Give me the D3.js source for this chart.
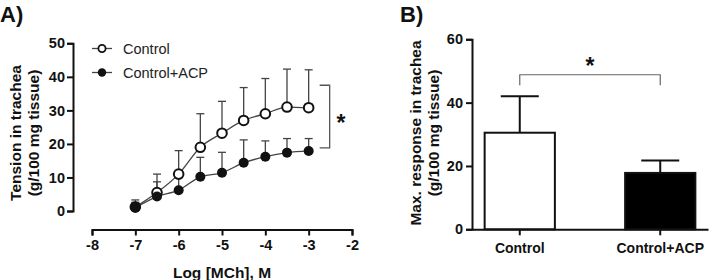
<!DOCTYPE html>
<html><head><meta charset="utf-8">
<script src="https://cdn.jsdelivr.net/npm/d3@7"></script>
<style>body{margin:0;background:#fff}svg{display:block;font-family:"Liberation Sans",Arial,sans-serif}</style>
</head><body><svg id="c" width="709" height="280"></svg>
<script>
const logDose = [-7, -6.5, -6, -5.5, -5, -4.5, -4, -3.5, -3];
const controlMean = [1.2, 5.5, 11, 19, 23.2, 27, 29, 31, 30.8];
const controlUpper = [3.3, 11, 18, 29, 32.7, 36.8, 39.5, 42.3, 42.1];
const acpMean = [1.0, 4.3, 6.2, 10.2, 11.4, 14.4, 16.2, 17.4, 17.9];
const acpUpper = [2.6, 8.7, 11, 16, 17.5, 21.2, 20.9, 21.6, 21.6];
const xTicksA = [-8, -7, -6, -5, -4, -3, -2];
const yTicksA = [0, 10, 20, 30, 40, 50];
const groups = ["Control", "Control+ACP"];
const maxMean = [30.5, 17.8];
const maxUpper = [42, 21.7];
const yTicksB = [0, 20, 40, 60];

const svg = d3.select("#c");
const F = '"Liberation Sans",Arial,sans-serif';
const fmt = d => String(d);

// ---------- Panel A ----------
const xA = d3.scaleLinear().domain([-8, -2]).range([92, 352]);
const yA = d3.scaleLinear().domain([0, 50]).range([211, 43.3]);
const gA = svg.append("g");

const yAx = gA.append("g").attr("transform", "translate(73,0)")
  .call(d3.axisLeft(yA).tickValues(yTicksA).tickFormat(fmt).tickSize(6).tickPadding(2));
const xAx = gA.append("g").attr("transform", "translate(0,229.5)")
  .call(d3.axisBottom(xA).tickValues(xTicksA).tickFormat(fmt).tickSize(6).tickPadding(4));
[yAx, xAx].forEach(a => {
  a.select(".domain").attr("stroke", "#111").attr("stroke-width", 2);
  a.selectAll(".tick line").attr("stroke", "#111").attr("stroke-width", 2);
  a.selectAll(".tick text").attr("font-family", F).attr("font-weight", "bold")
    .attr("font-size", 14.5).attr("fill", "#111");
});

// error bars (upper only)
function errBars(g, xs, means, ups, x, y) {
  xs.forEach((d, i) => {
    g.append("line").attr("x1", x(d)).attr("x2", x(d)).attr("y1", y(means[i])).attr("y2", y(ups[i]))
      .attr("stroke", "#444").attr("stroke-width", 1.3);
    g.append("line").attr("x1", x(d) - 4).attr("x2", x(d) + 4).attr("y1", y(ups[i])).attr("y2", y(ups[i]))
      .attr("stroke", "#444").attr("stroke-width", 1.3);
  });
}
errBars(gA, logDose, controlMean, controlUpper, xA, yA);
errBars(gA, logDose, acpMean, acpUpper, xA, yA);

const line = d3.line().x((d, i) => xA(logDose[i])).y(d => yA(d)).curve(d3.curveMonotoneX);
gA.append("path").attr("d", line(controlMean)).attr("fill", "none").attr("stroke", "#444").attr("stroke-width", 1.3);
gA.append("path").attr("d", line(acpMean)).attr("fill", "none").attr("stroke", "#444").attr("stroke-width", 1.3);

gA.selectAll(".po").data(controlMean).join("circle")
  .attr("cx", (d, i) => xA(logDose[i])).attr("cy", d => yA(d)).attr("r", 4.8)
  .attr("fill", "#fff").attr("stroke", "#111").attr("stroke-width", 2);
gA.selectAll(".pf").data(acpMean).join("circle")
  .attr("cx", (d, i) => xA(logDose[i])).attr("cy", d => yA(d)).attr("r", 5)
  .attr("fill", "#111");

// legend
const leg = [{y: 48.5, open: true, t: groups[0]}, {y: 72.5, open: false, t: groups[1]}];
leg.forEach(l => {
  gA.append("line").attr("x1", 92).attr("x2", 112).attr("y1", l.y).attr("y2", l.y).attr("stroke", "#444").attr("stroke-width", 1.3);
  gA.append("circle").attr("cx", 102).attr("cy", l.y).attr("r", l.open ? 3.6 : 4.2)
    .attr("fill", l.open ? "#fff" : "#111").attr("stroke", "#111").attr("stroke-width", l.open ? 1.8 : 0);
  gA.append("text").attr("x", 123).attr("y", l.y + 5).attr("font-family", F).attr("font-size", 14.5)
    .attr("fill", "#222").text(l.t);
});

// significance bracket A
gA.append("path").attr("d", `M${xA(-3) + 11},${yA(37.5)}H${xA(-3) + 21}V${yA(18.8)}H${xA(-3) + 11}`)
  .attr("fill", "none").attr("stroke", "#555").attr("stroke-width", 1.3);
gA.append("text").attr("x", 341).attr("y", 131).attr("text-anchor", "middle").attr("font-family", F)
  .attr("font-weight", "bold").attr("font-size", 23).attr("fill", "#111").text("*");

// labels A
gA.append("text").attr("x", 0).attr("y", 22).attr("font-family", F).attr("font-weight", "bold")
  .attr("font-size", 22).attr("fill", "#111").text("A)");
const ylabA = gA.append("text").attr("transform", "translate(0,133) rotate(-90)").attr("text-anchor", "middle")
  .attr("font-family", F).attr("font-weight", "bold").attr("font-size", 15.5).attr("fill", "#111");
ylabA.append("tspan").attr("x", 0).attr("y", 20.5).text("Tension in trachea");
ylabA.append("tspan").attr("x", 0).attr("y", 38.5).text("(g/100 mg tissue)");
gA.append("text").attr("x", xA(-5)).attr("y", 277.5).attr("text-anchor", "middle").attr("font-family", F)
  .attr("font-weight", "bold").attr("font-size", 15.5).attr("fill", "#111").text("Log [MCh], M");

// ---------- Panel B ----------
const xB = d3.scaleBand().domain(groups).range([472, 708]).paddingInner(0.5).paddingOuter(0.09);
const yB = d3.scaleLinear().domain([0, 60]).range([229.3, 39.3]);
const gB = svg.append("g");

gB.selectAll(".bar").data(groups).join("rect")
  .attr("x", d => xB(d)).attr("width", xB.bandwidth())
  .attr("y", (d, i) => yB(maxMean[i])).attr("height", (d, i) => yB(0) - yB(maxMean[i]))
  .attr("fill", (d, i) => i === 0 ? "#fff" : "#000").attr("stroke", "#111").attr("stroke-width", 2);
groups.forEach((g, i) => {
  const cx = xB(g) + xB.bandwidth() / 2;
  gB.append("line").attr("x1", cx).attr("x2", cx).attr("y1", yB(maxMean[i])).attr("y2", yB(maxUpper[i]))
    .attr("stroke", "#111").attr("stroke-width", 2);
  gB.append("line").attr("x1", cx - 19).attr("x2", cx + 19).attr("y1", yB(maxUpper[i])).attr("y2", yB(maxUpper[i]))
    .attr("stroke", "#111").attr("stroke-width", 2);
});

const yBx = gB.append("g").attr("transform", "translate(472,0)")
  .call(d3.axisLeft(yB).tickValues(yTicksB).tickFormat(fmt).tickSize(6).tickPadding(3));
const xBx = gB.append("g").attr("transform", "translate(0,229.3)")
  .call(d3.axisBottom(xB).tickSize(6).tickPadding(8).tickSizeOuter(0));
[yBx, xBx].forEach(a => {
  a.select(".domain").attr("stroke", "#111").attr("stroke-width", 2);
  a.selectAll(".tick line").attr("stroke", "#111").attr("stroke-width", 2);
  a.selectAll(".tick text").attr("font-family", F).attr("font-weight", "bold")
    .attr("font-size", 14.5).attr("fill", "#111");
});
xBx.selectAll(".tick text").attr("font-size", 14);

// bracket B
const c0 = xB(groups[0]) + xB.bandwidth() / 2, c1 = xB(groups[1]) + xB.bandwidth() / 2;
gB.append("path").attr("d", `M${c0},${yB(45.5)}V${yB(48.8)}H${c1}V${yB(45.5)}`)
  .attr("fill", "none").attr("stroke", "#666").attr("stroke-width", 1.2);
gB.append("text").attr("x", (c0 + c1) / 2).attr("y", 74).attr("text-anchor", "middle").attr("font-family", F)
  .attr("font-weight", "bold").attr("font-size", 23).attr("fill", "#111").text("*");

gB.append("text").attr("x", 400).attr("y", 22).attr("font-family", F).attr("font-weight", "bold")
  .attr("font-size", 22).attr("fill", "#111").text("B)");
const ylabB = gB.append("text").attr("transform", "translate(0,133) rotate(-90)").attr("text-anchor", "middle")
  .attr("font-family", F).attr("font-weight", "bold").attr("font-size", 15.5).attr("fill", "#111");
ylabB.append("tspan").attr("x", 0).attr("y", 420.5).text("Max. response in trachea");
ylabB.append("tspan").attr("x", 0).attr("y", 438.5).text("(g/100 mg tissue)");
</script></body></html>
